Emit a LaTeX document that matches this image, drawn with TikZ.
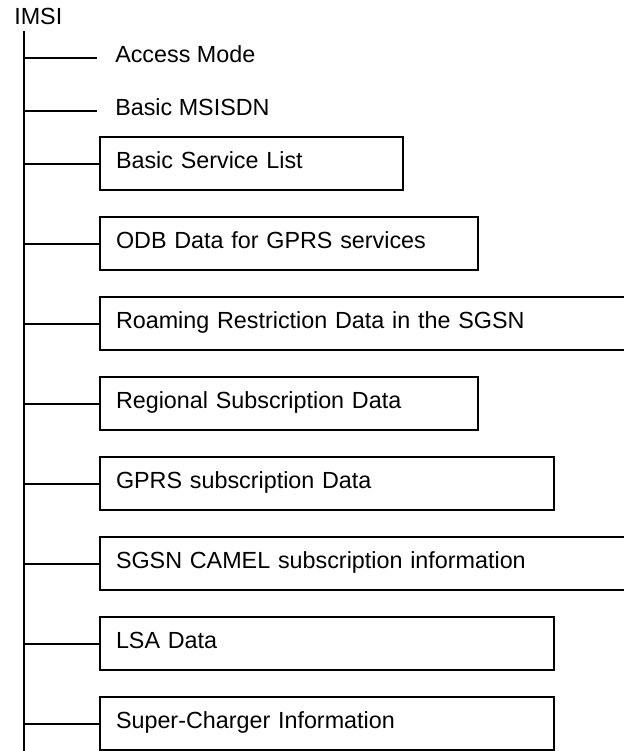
\documentclass[tikz,border=0pt]{standalone}
\usepackage{fontspec}
\setmainfont{Liberation Sans}
\usepackage{tikz}

\tikzset{
  every node/.style={font=\fontsize{17.5}{21}\selectfont},
  tree line/.style={line width=1.5pt},
  leaf/.style={anchor=west, inner xsep=13.5pt, text height=11pt, text depth=4.25pt},
  databox/.style={draw, line width=1.5pt, anchor=west, inner xsep=12pt,
    minimum height=39.75pt, text width=#1, align=left,
    text height=11pt, text depth=4.25pt}
}

\begin{document}
\begin{tikzpicture}[x=0.75pt, y=-0.75pt]

      \clip (0,0) rectangle (624,751);

      % root and trunk
      \node[anchor=base west, inner sep=0pt] (imsi) at (14,24) {IMSI};
      \coordinate (root) at (24,31);
      \coordinate (bottom) at (24,751);
      \draw[tree line] (root) -- (bottom);

      % plain entries
      \node[leaf] (access) at (97,58) {Access Mode};
      \node[leaf] (msisdn) at (97,111) {Basic MSISDN};

      % boxed entries
      \node[databox=203.25pt] (bsl)   at (99,163.5) {Basic Service List};
      \node[databox=259.5pt]  (odb)   at (99,243.5) {ODB Data for GPRS services};
      \node[databox=396.75pt] (roam)  at (99,323.5) {Roaming Restriction Data in the SGSN};
      \node[databox=259.5pt]  (reg)   at (99,403.5) {Regional Subscription Data};
      \node[databox=316.5pt]  (gprs)  at (99,483.5) {GPRS subscription Data};
      \node[databox=396.75pt] (camel) at (99,563.5) {SGSN CAMEL subscription information};
      \node[databox=316.5pt]  (lsa)   at (99,643.5) {LSA Data};
      \node[databox=316.5pt]  (super) at (99,723.5) {Super-Charger Information};

      % branches
      \draw[tree line] (root |- access.west) -- (access.west);
      \draw[tree line] (root |- msisdn.west) -- (msisdn.west);
      \draw[tree line] (root |- bsl.west) -- (bsl.west);
      \draw[tree line] (root |- odb.west) -- (odb.west);
      \draw[tree line] (root |- roam.west) -- (roam.west);
      \draw[tree line] (root |- reg.west) -- (reg.west);
      \draw[tree line] (root |- gprs.west) -- (gprs.west);
      \draw[tree line] (root |- camel.west) -- (camel.west);
      \draw[tree line] (root |- lsa.west) -- (lsa.west);
      \draw[tree line] (root |- super.west) -- (super.west);

    \end{tikzpicture}
\end{document}
